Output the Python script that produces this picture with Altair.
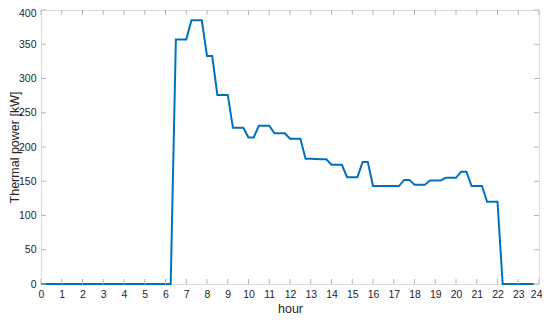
import altair as alt
import pandas as pd

# quarter-hour time axis (hours)
hours = [i * 0.25 for i in range(96)]
power = (
    [0] * 26
    + [357, 357, 357]
    + [385, 385, 385]
    + [333, 333]
    + [276, 276, 276]
    + [228, 228, 228]
    + [214, 214]
    + [231, 231, 231]
    + [220, 220, 220]
    + [212, 212, 212]
    + [183, 183, 182.5, 182, 182]
    + [174, 174, 174]
    + [156, 156, 156]
    + [178, 178]
    + [143, 143, 143, 143, 143, 143]
    + [152, 152]
    + [145, 145, 145]
    + [151, 151, 151]
    + [155, 155, 155]
    + [164, 164]
    + [143, 143, 143]
    + [120, 120, 120]
    + [0] * 7
)
x_ticks = list(range(0, 25))
y_ticks = list(range(0, 401, 50))

W, H = 498, 274
AX = "#b4b4b4"
TXT = "#262626"
FONT = "Liberation Sans"

df = pd.DataFrame({"hour": hours, "power": power})
xt = pd.DataFrame({"hour": x_ticks})
yt = pd.DataFrame({"power": y_ticks})

xscale = alt.Scale(domain=[0, 24], nice=False, zero=False)
yscale = alt.Scale(domain=[0, 400], nice=False)

common = dict(tickSize=0, domain=False, grid=False, labelOverlap=False,
              labelFontSize=10.5, labelColor=TXT,
              titleFontSize=12.5, titleColor=TXT, titleFontWeight="normal",
              labelFont=FONT, titleFont=FONT, titleBaseline="alphabetic")

xaxis = alt.Axis(values=x_ticks, labelPadding=5, labelFlush=True,
                 labelFlushOffset=3, titleX=W / 2, titleY=28, **common)
yaxis = alt.Axis(values=y_ticks, labelPadding=5, labelFlush=False,
                 labelOffset=alt.condition("datum.value == 400", alt.value(3), alt.value(0)),
                 titleX=-23, titleY=H / 2, **common)

X = alt.X("hour:Q", scale=xscale, title="hour", axis=xaxis)
Y = alt.Y("power:Q", scale=yscale, title="Thermal power [kW]", axis=yaxis)

line = alt.Chart(df).mark_line(color="#0072BD", strokeWidth=2).encode(x=X, y=Y)

tk = dict(color=AX, strokeWidth=1)
xb = alt.Chart(xt).mark_rule(**tk).encode(x=X, y=alt.value(H), y2=alt.value(H - 5))
xtop = alt.Chart(xt).mark_rule(**tk).encode(x=X, y=alt.value(0), y2=alt.value(5))
yl = alt.Chart(yt).mark_rule(**tk).encode(y=Y, x=alt.value(0), x2=alt.value(5))
yr = alt.Chart(yt).mark_rule(**tk).encode(y=Y, x=alt.value(W), x2=alt.value(W - 5))

chart = alt.layer(line, xb, xtop, yl, yr).properties(
    width=W, height=H,
    autosize=alt.AutoSizeParams(type="none"),
    padding={"left": 33, "top": 2, "right": 3, "bottom": 35},
).configure_view(stroke=AX, strokeWidth=1).configure(background="white")

chart.save("out.html", embed_options={"renderer": "svg", "actions": False})
